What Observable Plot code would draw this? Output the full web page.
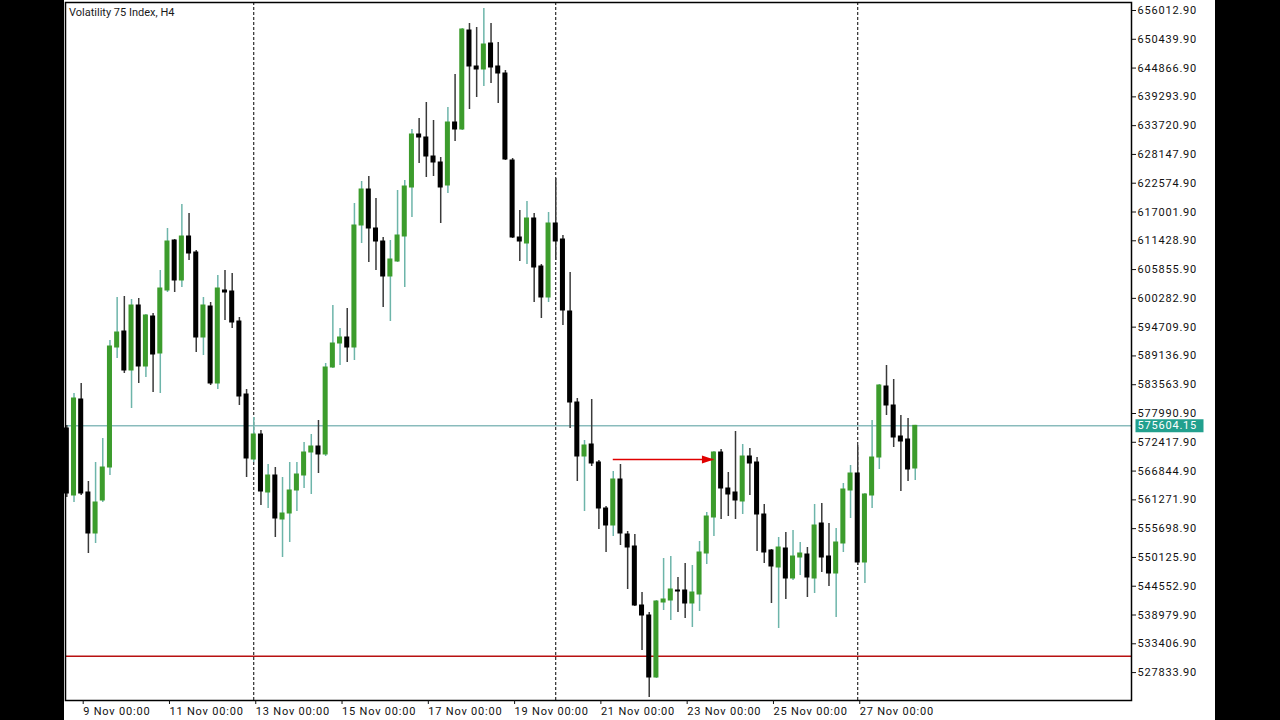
<!DOCTYPE html>
<html><head><meta charset="utf-8">
<script src="https://cdn.jsdelivr.net/npm/d3@7"></script>
<script src="https://cdn.jsdelivr.net/npm/@observablehq/plot@0.6"></script>
<style>
html,body{margin:0;padding:0;background:#000;width:1280px;height:720px;overflow:hidden}
#chart{position:absolute;left:64px;top:0;width:1151px;height:720px;background:#fff}
#chart svg{display:block;font-family:Roboto,"DejaVu Sans",sans-serif}
#chart svg text{letter-spacing:0.8px}
#title{position:absolute;left:5px;top:6px;font:11px Roboto,"DejaVu Sans",sans-serif;color:#1a1a1a;line-height:13px;white-space:nowrap}
</style></head><body>
<div id="chart"><div id="title"></div></div>
<script>
const title = "Volatility 75 Index, H4";
// first H4 bar (8 Nov 2023 16:00), one bar every 4 hours
const firstBar = Date.UTC(2023, 10, 8, 16);
const opens = [
575088, 562117, 580703, 562698, 554760, 561149, 567538, 590770, 593867, 586317,
598901, 587091, 596771, 589608, 601805, 611485, 603741, 612259, 609162, 592706,
598707, 583800, 601805, 601611, 595803, 581671, 569087, 573927, 562698, 565989,
557471, 558632, 563085, 565989, 570442, 571603, 570055, 586898, 591544, 592706,
590770, 614389, 621359, 613808, 611291, 604515, 607419, 612259, 621746, 632007,
631426, 627747, 626586, 622133, 634330, 632975, 652141, 645171, 644591, 649624,
645171, 643816, 626973, 612066, 610904, 615744, 606451, 600450, 614776, 611679,
597739, 580122, 569667, 571991, 568506, 559600, 556309, 565215, 554567, 552243,
540821, 538885, 526882, 541402, 541789, 543725, 543725, 541208, 542951, 550888,
557858, 570442, 563472, 562698, 560955, 569667, 568506, 558439, 551469, 548178,
551856, 546048, 550114, 550695, 546048, 556696, 550307, 547016, 552824, 563085,
566376, 549146, 562117, 569474, 583219, 579541, 573539, 572959, 567344];
const highs = [
575669, 581864, 583800, 564827, 568506, 573152, 592125, 600450, 600643, 600063,
600256, 597159, 597352, 605677, 613808, 611679, 618455, 616712, 609549, 600450,
599482, 604709, 605677, 605096, 596578, 582639, 577218, 574701, 568119, 567538,
565602, 568506, 568506, 572378, 573927, 576637, 587672, 598901, 594448, 598320,
618648, 622907, 623875, 619616, 612066, 611485, 621165, 623101, 632975, 635104,
638202, 634717, 627554, 637234, 643623, 652528, 653496, 652722, 656400, 653496,
649818, 644397, 627360, 617293, 619035, 616712, 606839, 616906, 623488, 612453,
605290, 580896, 572765, 580703, 568893, 559987, 566763, 568119, 555147, 554567,
543338, 539466, 541789, 549920, 550307, 546242, 548952, 548565, 553211, 558826,
570635, 571023, 566570, 574507, 571991, 571216, 569474, 560375, 551663, 553986,
554954, 555341, 553018, 552050, 560375, 560568, 556696, 555728, 564440, 567925,
571797, 562504, 576637, 583607, 587285, 584575, 577605, 577024, 575700];
const lows = [
561730, 560762, 562117, 550888, 552824, 560762, 565989, 588640, 585736, 578960,
583800, 584962, 582058, 581864, 601418, 601418, 602386, 607613, 589802, 589221,
583413, 582639, 595997, 594448, 579541, 565602, 568506, 560181, 559600, 553986,
550114, 553018, 559019, 563472, 562311, 566376, 569667, 586704, 587285, 587866,
588253, 610904, 607226, 605677, 598514, 595803, 607226, 602386, 615938, 626392,
623682, 623875, 614776, 620584, 630651, 632781, 636847, 639170, 641299, 641880,
638008, 626973, 611872, 607419, 606839, 599482, 596384, 599482, 607613, 595029,
575088, 564827, 559019, 567731, 555535, 551082, 554179, 552437, 543919, 540627,
532109, 523010, 526688, 539853, 537917, 539466, 538304, 536562, 539659, 548759,
554179, 557471, 558051, 557471, 558439, 562117, 551275, 548952, 541208, 536368,
541983, 545661, 546629, 542370, 543144, 547210, 544499, 538498, 551082, 557664,
548565, 545080, 559600, 567151, 577605, 571410, 562891, 564827, 565021];
const closes = [
562504, 580896, 562504, 554760, 560762, 567538, 590963, 593674, 586317, 598901,
587091, 596965, 589415, 602192, 611291, 603741, 612259, 608968, 592706, 598901,
583800, 602192, 601418, 595610, 581283, 569280, 573927, 562891, 565989, 557664,
558632, 563085, 566183, 570442, 571603, 570055, 586898, 591544, 592706, 590770,
614389, 621359, 613808, 611291, 604515, 607807, 612453, 621939, 632007, 631426,
627747, 626586, 621746, 634330, 632975, 652335, 645171, 644591, 649431, 644978,
643816, 627167, 612066, 611291, 615744, 606258, 600450, 614776, 611291, 597933,
580122, 569667, 571797, 568312, 559600, 556309, 565215, 554760, 552050, 540821,
538885, 526882, 541595, 541983, 543919, 543531, 541208, 543338, 551082, 558051,
570442, 563472, 562311, 561149, 569667, 568312, 558439, 551082, 548371, 552050,
546048, 550307, 550888, 546242, 556309, 550114, 547016, 553018, 563279, 566376,
549146, 562311, 569474, 583413, 579541, 573346, 572571, 567151, 575604.15];

const yTicks = [656012.90, 650439.90, 644866.90, 639293.90, 633720.90, 628147.90,
  622574.90, 617001.90, 611428.90, 605855.90, 600282.90, 594709.90, 589136.90,
  583563.90, 577990.90, 572417.90, 566844.90, 561271.90, 555698.90, 550125.90,
  544552.90, 538979.90, 533406.90, 527833.90];
const xTickDates = [9, 11, 13, 15, 17, 19, 21, 23, 25, 27].map(d => new Date(Date.UTC(2023, 10, d)));
const xTickLabels = ["9 Nov 00:00", "11 Nov 00:00", "13 Nov 00:00", "15 Nov 00:00", "17 Nov 00:00",
  "19 Nov 00:00", "21 Nov 00:00", "23 Nov 00:00", "25 Nov 00:00", "27 Nov 00:00"];
const weekSeparators = [13, 20, 27].map(d => new Date(Date.UTC(2023, 10, d)));
const supportLevel = 531000;
const arrowFrom = new Date(Date.UTC(2023, 10, 21, 8));
const arrowTo = new Date(Date.UTC(2023, 10, 23, 16));
const arrowPrice = 569090;
const xDomain = [new Date(Date.UTC(2023, 10, 8, 15, 16)), new Date(Date.UTC(2023, 11, 3, 8, 18))];
const yDomain = [522429, 657562];

const H = 3600e3;
const bars = opens.map((o, i) => ({
  t: new Date(firstBar + i * 4 * H), o, h: highs[i], l: lows[i], c: closes[i], up: closes[i] >= o
}));
const lastClose = closes[closes.length - 1];

const arrowHead = {draw(ctx) { ctx.moveTo(0, 0); ctx.lineTo(-12, -4); ctx.lineTo(-12, 4); ctx.closePath(); }};
const priceBox = {draw(ctx) { ctx.moveTo(4, -6.5); ctx.lineTo(72, -6.5); ctx.lineTo(72, 6.5); ctx.lineTo(4, 6.5); ctx.closePath(); }};

document.getElementById("title").textContent = title;

const chart = Plot.plot({
  width: 1151, height: 720,
  marginLeft: 1, marginRight: 84, marginTop: 2, marginBottom: 20,
  x: {type: "utc", domain: xDomain},
  y: {domain: yDomain},
  style: {background: "transparent", fontSize: "11px", color: "#111", overflow: "visible"},
  marks: [
    Plot.ruleX(weekSeparators, {stroke: "#000", strokeWidth: 1, strokeDasharray: "3,2"}),
    Plot.ruleY([lastClose], {stroke: "#4f9a9c", strokeWidth: 1}),
    Plot.ruleY([supportLevel], {stroke: "#b81010", strokeWidth: 1.5}),
    Plot.ruleX(bars, {x: "t", y1: "l", y2: "h", stroke: d => d.up ? "#6db5aa" : "#3a3a3a", strokeWidth: 1.5}),
    Plot.rect(bars, {
      x1: d => new Date(+d.t - 1.4 * H), x2: d => new Date(+d.t + 1.4 * H),
      y1: "o", y2: "c", fill: d => d.up ? "#3c9c2c" : "#000", insetTop: -0.5, insetBottom: -0.5
    }),
    Plot.ruleY([{a: arrowFrom, b: arrowTo, p: arrowPrice}], {x1: "a", x2: "b", y: "p", stroke: "#e00000", strokeWidth: 1.3}),
    Plot.dot([{b: arrowTo, p: arrowPrice}], {x: "b", y: "p", symbol: arrowHead, fill: "#e00000", stroke: "none"}),
    Plot.frame({stroke: "#000", strokeWidth: 1.5}),
    Plot.axisX({ticks: xTickDates, tickFormat: d => xTickLabels[xTickDates.findIndex(t => +t === +d)],
      textAnchor: "start", dx: 2, tickSize: 4, tickPadding: 3, label: null, fill: "#111"}),
    Plot.axisY({anchor: "right", ticks: yTicks, tickFormat: d => d.toFixed(2),
      tickSize: 4, tickPadding: 2, label: null, fill: "#111"}),
    Plot.dot([{t: xDomain[1], p: lastClose}], {x: "t", y: "p", symbol: priceBox, fill: "#22a08e", stroke: "none"}),
    Plot.text([{t: xDomain[1], p: lastClose}], {x: "t", y: "p", text: d => d.p.toFixed(2), fill: "#fff", textAnchor: "start", dx: 6})
  ]
});
document.getElementById("chart").appendChild(chart);
</script>
</body></html>
